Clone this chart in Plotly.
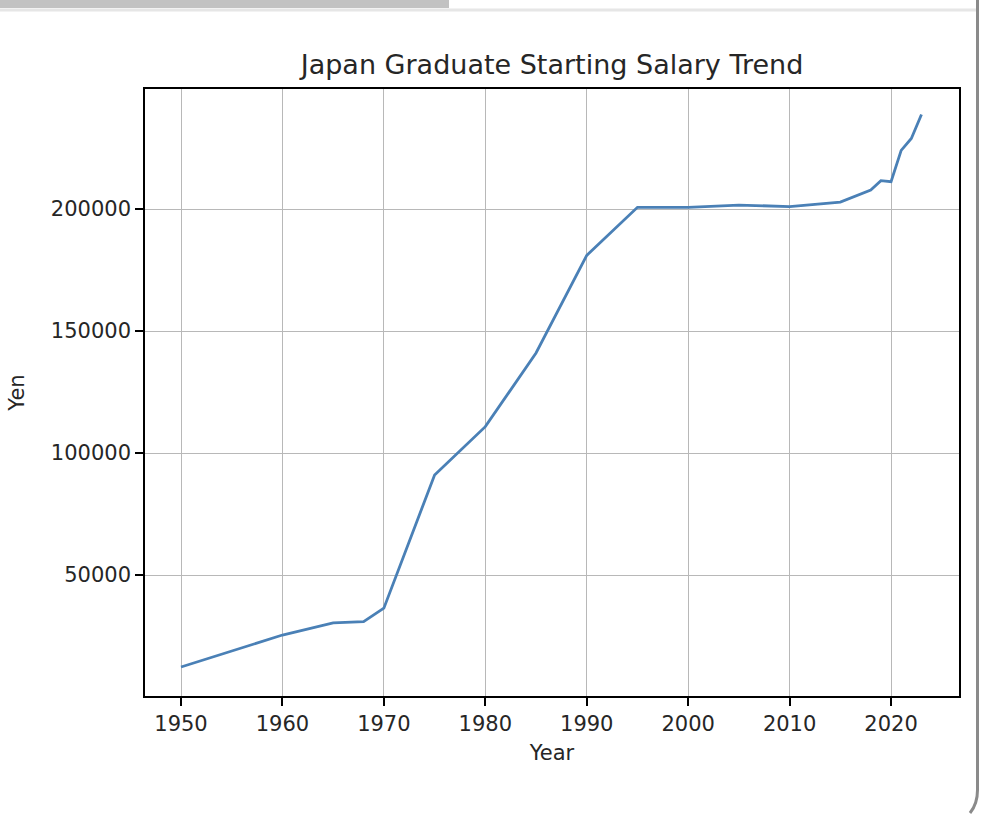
import plotly.graph_objects as go

# values
years = [1950, 1955, 1960, 1965, 1968, 1970, 1975, 1980, 1985, 1990, 1995,
         2000, 2005, 2010, 2015, 2018, 2019, 2020, 2021, 2022, 2023]
salary_yen = [12300, 18800, 25400, 30400, 30900, 36400, 91000, 110800, 141000,
              181000, 200700, 200700, 201600, 201000, 202800, 207800, 211600,
              211200, 224000, 228900, 238700]

x_ticks = [1950, 1960, 1970, 1980, 1990, 2000, 2010, 2020]
y_ticks = [50000, 100000, 150000, 200000]

W, H = 981, 816
L, R, T, B = 145, 959, 89, 696  # plot area in pixels


def px(x):
    return (x - L) / (R - L)


def py(y):
    return (B - y) / (B - T)


fig = go.Figure(go.Scatter(
    x=years, y=salary_yen, mode="lines",
    line=dict(color="#4a80b6", width=2.8),
    hoverinfo="x+y", showlegend=False,
))

font = dict(family="DejaVu Sans", color="#262626")

fig.update_layout(
    width=W, height=H,
    margin=dict(l=L, r=W - R, t=T, b=H - B),
    paper_bgcolor="white", plot_bgcolor="white",
    font=dict(size=21, **font),
    title=dict(text="Japan Graduate Starting Salary Trend",
               font=dict(size=27, **font),
               x=0.5, xref="paper", xanchor="center",
               y=1 - 65 / H, yanchor="middle"),
)

axis_common = dict(
    showline=True, linecolor="black", linewidth=1.6, mirror=True,
    ticks="outside", ticklen=8, tickwidth=1.5, tickcolor="black",
    showgrid=True, gridcolor="#b8b8b8", gridwidth=1.3,
    zeroline=False, tickfont=dict(size=21, **font),
)

fig.update_xaxes(
    range=[1946.45, 2026.7], tickvals=x_ticks,
    title=dict(text="Year", font=dict(size=21, **font), standoff=10),
    **axis_common,
)
fig.update_yaxes(
    range=[412, 249180], tickvals=y_ticks, tickformat="d",
    title=dict(text="Yen", font=dict(size=21, **font), standoff=20),
    **axis_common,
)

# screenshot frame bits around the chart
fig.add_shape(type="rect", xref="paper", yref="paper",
              x0=px(0), x1=px(449), y0=py(8), y1=py(0),
              fillcolor="#c2c2c2", line_width=0, layer="below")
fig.add_shape(type="line", xref="paper", yref="paper",
              x0=px(0), x1=px(976), y0=py(10), y1=py(10),
              line=dict(color="#e6e6e6", width=3))
fig.add_shape(type="path", xref="paper", yref="paper",
              path=f"M {px(977.5)},{py(0)} L {px(977.5)},{py(790)} "
                   f"Q {px(977.5)},{py(804)} {px(970)},{py(813)}",
              line=dict(color="#8a8a8a", width=3))

# drop the page's default body margin so the figure sits at (0, 0)
fig.write_html("out.html", config={"displayModeBar": False},
               post_script="document.body.style.margin='0';")
